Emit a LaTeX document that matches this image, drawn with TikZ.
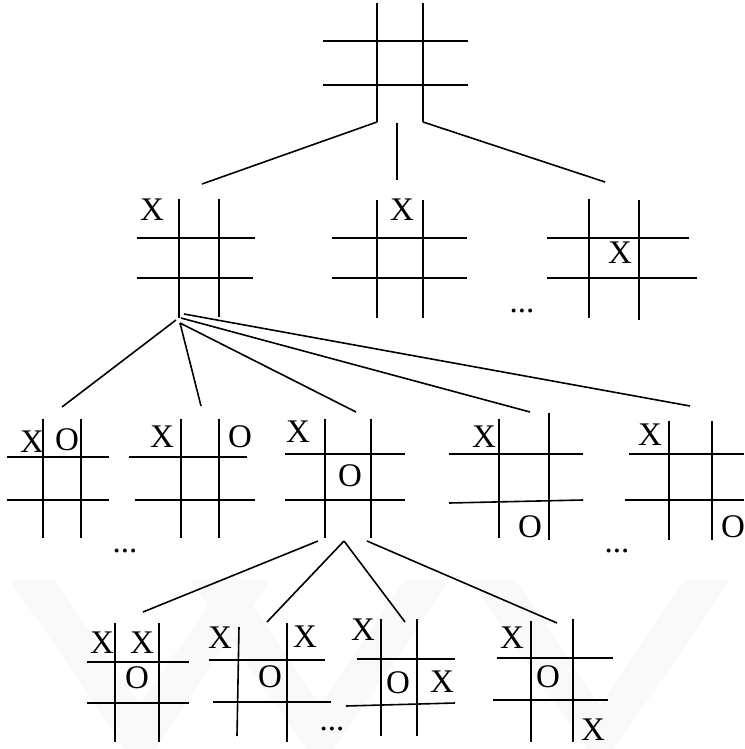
\documentclass[tikz,border=0pt]{standalone}
\usepackage{fontspec}
\setmainfont{Liberation Serif}
\begin{document}
\begin{tikzpicture}[x=1pt,y=-1pt,
  gridline/.style={line width=1.6pt},
  conn/.style={line width=1.6pt},
  lbl/.style={inner sep=0pt,font=\fontsize{33}{33}\selectfont},
  wm/.style={fill=gray!5,draw=none}]
\useasboundingbox (0,0) rectangle (744,749);
% watermark
\begin{scope}
\clip (0,580) rectangle (744,749);
\foreach \v in {140,320,600}{
  \fill[wm] (\v-130,580) -- (\v,770) -- (\v+130,580) -- (\v+85,580) -- (\v,705) -- (\v-85,580) -- cycle;
}
\end{scope}
% ---------- top board
\coordinate (tL) at (377,122); \coordinate (tM) at (397,123); \coordinate (tR) at (423,122);
\draw[gridline] (377,3) -- (tL); \draw[gridline] (423,3) -- (tR);
\draw[gridline] (323,41) -- (468,41); \draw[gridline] (323,85) -- (468,85);
% ---------- level 1
\coordinate (b1top) at (202,184); \coordinate (b2top) at (397,180); \coordinate (b3top) at (605,182);
\draw[conn] (tL) -- (b1top); \draw[conn] (tM) -- (b2top); \draw[conn] (tR) -- (b3top);
% board 1
\draw[gridline] (179,199) -- (179,318); \draw[gridline] (219,199) -- (219,317);
\draw[gridline] (137,238) -- (255,238); \draw[gridline] (137,278) -- (253,278);
\node[lbl] (b1x) at (152,210) {X};
% board 2
\draw[gridline] (377,200) -- (377,318); \draw[gridline] (423,200) -- (423,318);
\draw[gridline] (332,238) -- (467,238); \draw[gridline] (332,278) -- (467,278);
\node[lbl] (b2x) at (402,210) {X};
% board 3
\draw[gridline] (589,199) -- (589,318); \draw[gridline] (639,200) -- (639,320);
\draw[gridline] (547,238) -- (689,238); \draw[gridline] (547,278) -- (697,278);
\node[lbl] (b3x) at (620,253) {X};
\node[lbl] (dots1) at (522,311) {...};
% ---------- level 2 connectors
\coordinate (s1) at (176,320); \coordinate (s2) at (180,323); \coordinate (s4) at (181,318); \coordinate (s5) at (184,314);
\coordinate (aTop) at (62,407); \coordinate (bTop) at (201,406); \coordinate (cTop) at (356,412);
\coordinate (dTop) at (530,412); \coordinate (eTop) at (690,406);
\draw[conn] (s1) -- (aTop); \draw[conn] (s2) -- (bTop); \draw[conn] (s2) -- (cTop);
\draw[conn] (s4) -- (dTop); \draw[conn] (s5) -- (eTop);
% board A
\draw[gridline] (43,419) -- (43,538); \draw[gridline] (81,419) -- (81,538);
\draw[gridline] (7,457) -- (109,457); \draw[gridline] (7,500) -- (109,500);
\node[lbl] (ax) at (32,442) {X}; \node[lbl] (ao) at (67,440) {O};
% board B
\draw[gridline] (181,419) -- (181,538); \draw[gridline] (219,419) -- (219,538);
\draw[gridline] (129,457) -- (247,457); \draw[gridline] (135,500) -- (255,500);
\node[lbl] (bx) at (162,437) {X}; \node[lbl] (bo) at (240,437) {O};
\node[lbl] (dots2) at (125,551) {...};
% board C
\draw[gridline] (325,419) -- (325,538); \draw[gridline] (371,419) -- (371,538);
\draw[gridline] (285,454) -- (405,454); \draw[gridline] (285,500) -- (405,500);
\node[lbl] (cx) at (298,432) {X}; \node[lbl] (co) at (350,476) {O};
% board D
\draw[gridline] (499,419) -- (499,538); \draw[gridline] (549,413) -- (549,540);
\draw[gridline] (449,454) -- (583,454); \draw[gridline] (449,503) -- (583,500);
\node[lbl] (dx) at (484,437) {X}; \node[lbl] (do) at (530,527) {O};
% board E
\draw[gridline] (669,421) -- (669,540); \draw[gridline] (712,421) -- (712,540);
\draw[gridline] (629,454) -- (744,454); \draw[gridline] (625,500) -- (744,500);
\node[lbl] (ex) at (650,435) {X}; \node[lbl] (eo) at (733,527) {O};
\node[lbl] (dots3) at (617,551) {...};
% ---------- level 3 connectors
\coordinate (u1) at (318,541); \coordinate (u2) at (344,541); \coordinate (u3) at (367,541);
\coordinate (fTop) at (143,612); \coordinate (gTop) at (267,622); \coordinate (hTop) at (405,622); \coordinate (iTop) at (557,623);
\draw[conn] (u1) -- (fTop); \draw[conn] (u2) -- (gTop); \draw[conn] (u2) -- (hTop); \draw[conn] (u3) -- (iTop);
% board F
\draw[gridline] (115,623) -- (115,742); \draw[gridline] (159,623) -- (159,742);
\draw[gridline] (87,662) -- (189,662); \draw[gridline] (87,703) -- (189,703);
\node[lbl] (fx1) at (102,643) {X}; \node[lbl] (fx2) at (142,643) {X}; \node[lbl] (fo) at (137,678) {O};
% board G
\draw[gridline] (239,627) -- (237,736); \draw[gridline] (287,623) -- (287,742);
\draw[gridline] (209,660) -- (325,660); \draw[gridline] (213,702) -- (331,702);
\node[lbl] (gx1) at (220,638) {X}; \node[lbl] (gx2) at (305,637) {X}; \node[lbl] (go) at (270,677) {O};
% board H
\draw[gridline] (381,619) -- (381,736); \draw[gridline] (417,619) -- (417,736);
\draw[gridline] (357,659) -- (455,659); \draw[gridline] (346,706) -- (455,703);
\node[lbl] (hx1) at (363,630) {X}; \node[lbl] (ho) at (398,683) {O}; \node[lbl] (hx2) at (442,682) {X};
\node[lbl] (dots4) at (332,729) {...};
% board I
\draw[gridline] (531,621) -- (531,742); \draw[gridline] (573,619) -- (573,742);
\draw[gridline] (497,658) -- (613,658); \draw[gridline] (493,700) -- (608,700);
\node[lbl] (ix1) at (512,638) {X}; \node[lbl] (io) at (548,677) {O}; \node[lbl] (ix2) at (593,730) {X};
\end{tikzpicture}
\end{document}
